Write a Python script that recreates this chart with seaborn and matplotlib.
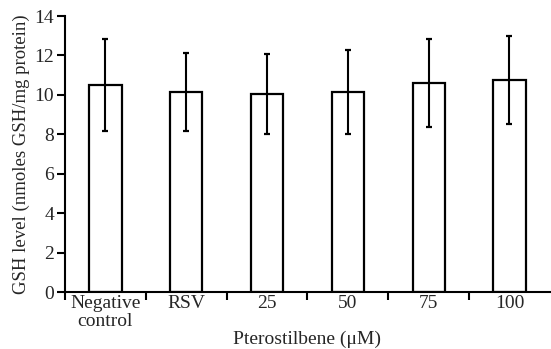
import matplotlib

matplotlib.use("Agg")
import matplotlib.pyplot as plt
import pandas as pd
import seaborn as sns

groups = ["Negative\ncontrol", "RSV", "25", "50", "75", "100"]
gsh_mean = [10.5, 10.15, 10.05, 10.15, 10.6, 10.75]
gsh_sd = [2.35, 2.0, 2.05, 2.15, 2.25, 2.22]

sns.set_theme(style="ticks")
plt.rcParams["font.family"] = ["Liberation Serif", "DejaVu Serif"]

df = pd.DataFrame({"group": groups, "gsh": gsh_mean, "sd": gsh_sd})

fig = plt.figure(figsize=(5.51, 3.49), dpi=100)
ax = fig.add_axes([0.118, 0.163, 0.88, 0.791])
sns.barplot(data=df, x="group", y="gsh", order=groups, color="white",
            edgecolor="black", linewidth=1.6, width=0.4, errorbar=None, ax=ax)
ax.errorbar(range(len(groups)), df["gsh"], yerr=df["sd"], fmt="none",
            ecolor="black", elinewidth=1.5, capsize=2.2, capthick=1.6)

ax.set_xlim(-0.5, len(groups) - 0.5)
ax.set_ylim(0, 14)
ax.set_yticks(range(0, 15, 2))
ax.set_xticks([i - 0.5 for i in range(len(groups))], minor=True)
ax.tick_params(axis="x", which="major", length=0, pad=2, labelsize=14)
ax.tick_params(axis="x", which="minor", length=6, width=1.5, direction="out", color="black")
ax.tick_params(axis="y", length=6, width=1.5, direction="out", labelsize=14, pad=2, color="black")
for lab in ax.get_xticklabels():
    lab.set_linespacing(1.1)

sns.despine(ax=ax)
for s in ["left", "bottom"]:
    ax.spines[s].set_linewidth(1.5)
    ax.spines[s].set_color("black")

ax.set_xlabel("Pterostilbene (μM)", fontsize=14, labelpad=0)
ax.set_ylabel("GSH level (nmoles GSH/mg protein)", fontsize=13.5, labelpad=3)

fig.savefig("out.png", dpi=100)
